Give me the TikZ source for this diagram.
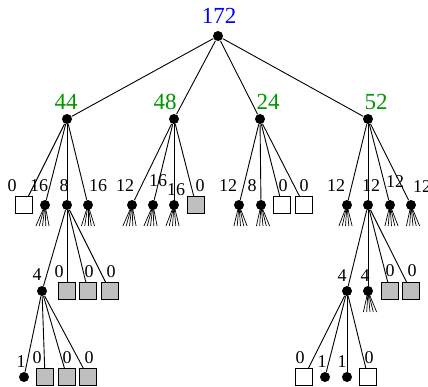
\documentclass[tikz,border=0pt]{standalone}
\usepackage{fontspec}
\setmainfont{Liberation Serif}
\usepackage{tikz}

\definecolor{valblue}{RGB}{0,0,255}
\definecolor{valgreen}{RGB}{0,150,0}

\tikzset{
  dot/.style={circle, fill, inner sep=0pt, minimum size=10pt},
  leafw/.style={draw, fill=white, inner sep=0pt, minimum size=17pt},
  leafg/.style={draw, fill=black!25, inner sep=0pt, minimum size=17pt},
  val/.style={inner sep=0pt, font=\fontsize{18}{18}\selectfont},
  bigval/.style={inner sep=0pt, font=\fontsize{23}{23}\selectfont},
}

\begin{document}
\begin{tikzpicture}[x=1pt, y=-1pt, line width=0.9pt]
    \useasboundingbox (0, 0) rectangle (428, 386);
    % root
    \node [dot] (r) at (218, 36) {};
    \node [bigval, valblue] (lr) at (219, 16) {172};
    % level 1
    \node [dot] (a) at (67, 119) {};
    \node [dot] (b) at (174, 119) {};
    \node [dot] (c) at (260, 119) {};
    \node [dot] (d) at (368, 119) {};
    \node [bigval, valgreen] (la) at (66, 102) {44};
    \node [bigval, valgreen] (lb) at (165, 102) {48};
    \node [bigval, valgreen] (lc) at (268, 102) {24};
    \node [bigval, valgreen] (ld) at (376, 102) {52};
    % level 2
    \node [leafw] (a1) at (24, 205) {};
    \node [dot]   (a2) at (45, 205) {};
    \node [dot]   (a3) at (67, 205) {};
    \node [dot]   (a4) at (88, 205) {};
    \node [val] (la1) at (12, 186) {0};
    \node [val] (la2) at (39, 186) {16};
    \node [val] (la3) at (64, 186) {8};
    \node [val] (la4) at (98, 186) {16};
    \node [dot]   (b1) at (132, 205) {};
    \node [dot]   (b2) at (153, 205) {};
    \node [dot]   (b3) at (174, 205) {};
    \node [leafg] (b4) at (196, 205) {};
    \node [val] (lb1) at (125, 186) {12};
    \node [val] (lb2) at (158, 181) {16};
    \node [val] (lb3) at (176, 190) {16};
    \node [val] (lb4) at (200, 186) {0};
    \node [dot]   (c1) at (239, 205) {};
    \node [dot]   (c2) at (261, 205) {};
    \node [leafw] (c3) at (282, 205) {};
    \node [leafw] (c4) at (304, 205) {};
    \node [val] (lc1) at (228, 186) {12};
    \node [val] (lc2) at (252, 186) {8};
    \node [val] (lc3) at (283, 186) {0};
    \node [val] (lc4) at (304, 186) {0};
    \node [dot]   (d1) at (347, 205) {};
    \node [dot]   (d2) at (368, 205) {};
    \node [dot]   (d3) at (390, 205) {};
    \node [dot]   (d4) at (411, 205) {};
    \node [val] (ld1) at (336, 186) {12};
    \node [val] (ld2) at (371, 186) {12};
    \node [val] (ld3) at (395, 182) {12};
    \node [val] (ld4) at (422, 187) {12};
    % level 3
    \node [dot]   (a31) at (42, 291) {};
    \node [leafg] (a32) at (67, 291) {};
    \node [leafg] (a33) at (88, 291) {};
    \node [leafg] (a34) at (110, 291) {};
    \node [val] (la31) at (37, 275) {4};
    \node [val] (la32) at (59, 272) {0};
    \node [val] (la33) at (89, 272) {0};
    \node [val] (la34) at (111, 272) {0};
    \node [dot]   (d21) at (347, 291) {};
    \node [dot]   (d22) at (368, 291) {};
    \node [leafg] (d23) at (390, 291) {};
    \node [leafg] (d24) at (411, 291) {};
    \node [val] (ld21) at (342, 276) {4};
    \node [val] (ld22) at (365, 276) {4};
    \node [val] (ld23) at (390, 271) {0};
    \node [val] (ld24) at (412, 271) {0};
    % level 4
    \node [dot]   (a311) at (24, 377) {};
    \node [leafg] (a312) at (45, 377) {};
    \node [leafg] (a313) at (67, 377) {};
    \node [leafg] (a314) at (88, 377) {};
    \node [val] (la311) at (21, 362) {1};
    \node [val] (la312) at (37, 358) {0};
    \node [val] (la313) at (67, 358) {0};
    \node [val] (la314) at (89, 358) {0};
    \node [leafw] (d211) at (304, 377) {};
    \node [dot]   (d212) at (325, 377) {};
    \node [dot]   (d213) at (347, 377) {};
    \node [leafw] (d214) at (368, 377) {};
    \node [val] (ld211) at (300, 358) {0};
    \node [val] (ld212) at (322, 362) {1};
    \node [val] (ld213) at (342, 362) {1};
    \node [val] (ld214) at (369, 358) {0};
    % edges
    \foreach \p/\q in {r/a, r/b, r/c, r/d,
                       a/a1, a/a2, a/a3, a/a4, b/b1, b/b2, b/b3, b/b4,
                       c/c1, c/c2, c/c3, c/c4, d/d1, d/d2, d/d3, d/d4,
                       a3/a31, a3/a32, a3/a33, a3/a34, d2/d21, d2/d22, d2/d23, d2/d24,
                       a31/a311, a31/a312, a31/a313, a31/a314,
                       d21/d211, d21/d212, d21/d213, d21/d214}
      \draw (\p) -- (\q);
    % cut-off subtrees
    \foreach \n/\s in {a2/-2.5, a4/0, b1/-2.5, b2/-2.5, b3/-1.5, c1/1.5,
                       c2/2, d1/-1.5, d3/1.5, d4/2, d22/2}
      \foreach \dx in {-6.6, -3.3, 0, 3.3, 6.6}
        \draw [line width=0.7pt] (\n.center) -- ++(\dx+\s, 21);
  \end{tikzpicture}
\end{document}
